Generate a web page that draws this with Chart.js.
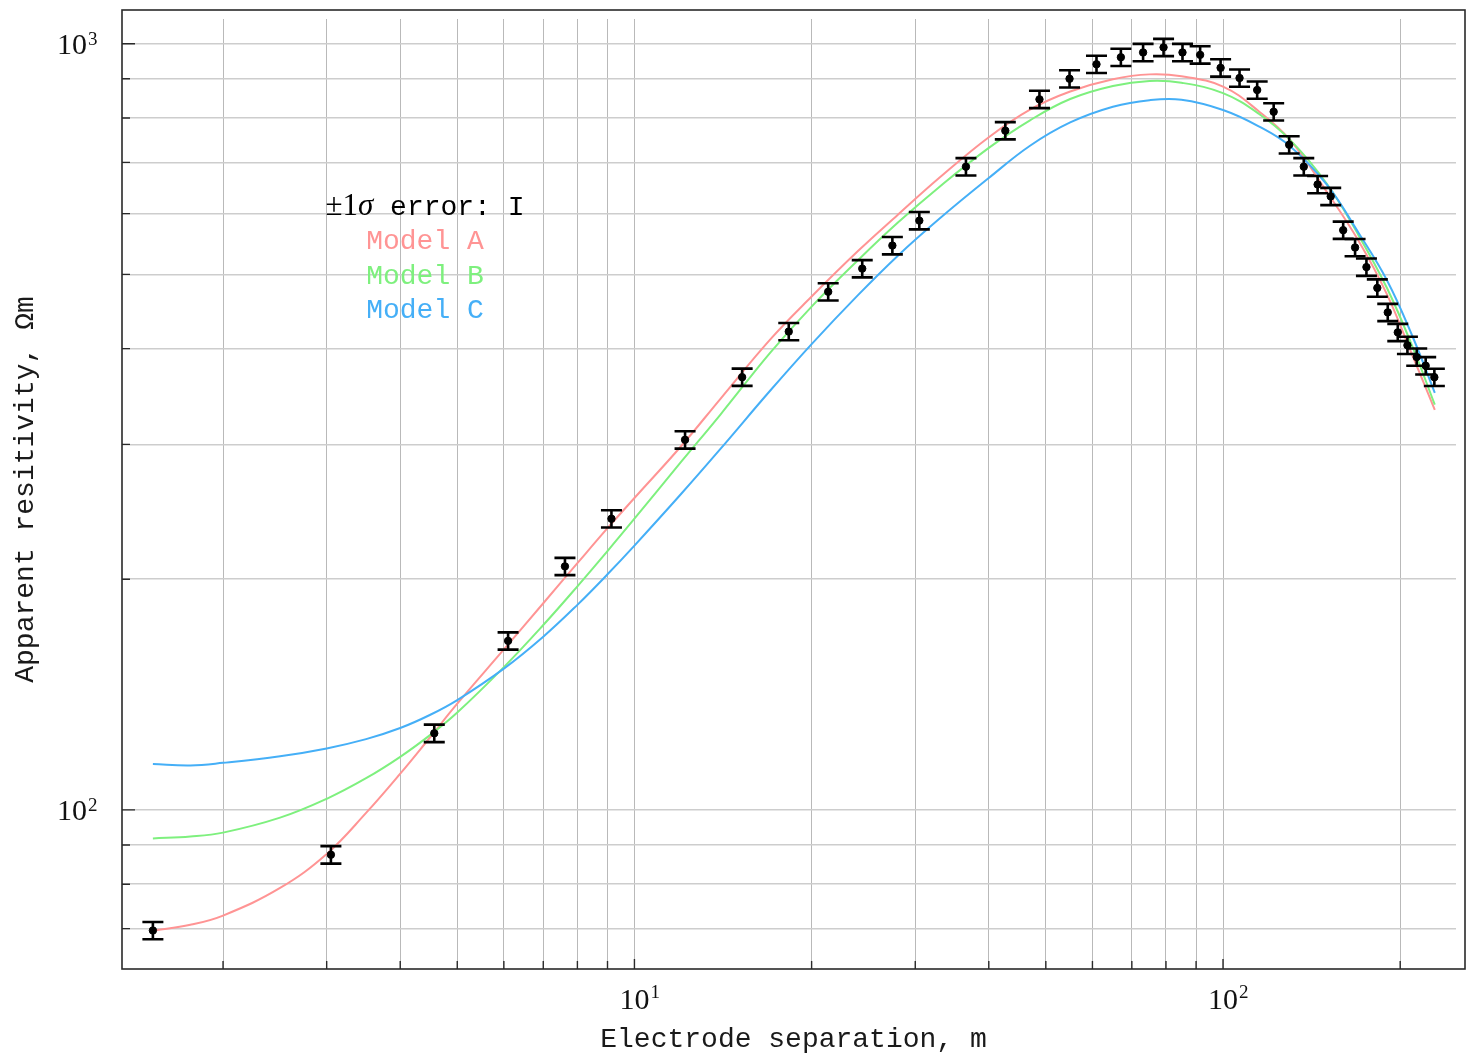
<!DOCTYPE html>
<html>
<head>
<meta charset="utf-8">
<title>Apparent resistivity sounding</title>
<script src="https://cdn.jsdelivr.net/npm/chart.js@4.4.1/dist/chart.umd.min.js"></script>
<style>
  html, body { margin: 0; padding: 0; background: #fff; }
  #chart { display: block; }
</style>
</head>
<body>
<canvas id="chart" width="1470" height="1055"></canvas>
<script>
// measured soundings: electrode separation (m), apparent resistivity (ohm-m), 1 sigma
const spacing = [1.52, 3.05, 4.57, 6.10, 7.62, 9.14, 12.19, 15.24, 18.29, 21.34, 24.38, 27.43, 30.48,
  36.58, 42.67, 48.77, 54.86, 60.96, 67.06, 73.15, 79.25, 85.34, 91.44, 99.06, 106.68, 114.30,
  121.92, 129.54, 137.16, 144.78, 152.40, 160.02, 167.64, 175.26, 182.88, 190.50, 198.12, 205.74,
  213.36, 220.98, 228.60];
const rhoMeasured = [69.6, 87.4, 125.9, 166.2, 207.9, 239.9, 304.1, 367.1, 421, 474.5, 508.7, 545.2, 587.6,
  691, 770, 846, 900, 940, 960, 974, 989, 974, 967, 930, 902, 870,
  815, 738, 691, 655, 632, 571, 542, 511, 480, 446, 420, 404,
  390, 380, 367];
const rhoSigma = [1.8, 2.3, 3.3, 4.3, 5.4, 6.2, 7.9, 9.5, 10.9, 12.3, 13.2, 14.2, 15.3,
  18.0, 20.0, 22.0, 23.4, 24.4, 25.0, 25.3, 25.7, 25.3, 25.1, 24.2, 23.5, 22.6,
  21.2, 19.2, 18.0, 17.0, 16.4, 14.8, 14.1, 13.3, 12.5, 11.6, 10.9, 10.5,
  10.1, 9.9, 9.5];

const modelSpacing = [1.52, 1.76, 2, 2.5, 3, 3.5, 4, 4.5, 5, 6, 7, 8, 9, 10, 12, 14, 17, 20, 24, 28, 33,
  40, 47, 55, 65, 75, 85, 100, 115, 130, 150, 170, 190, 210, 229];
const modelA = [69.6, 70.8, 72.8, 79.1, 87.6, 99.1, 111.5, 124.5, 137.6, 162.0, 186.1, 209.9, 233.2, 255.3,
  298.3, 344, 410.9, 467.7, 536.6, 597.7, 668.7, 755, 820.3, 866, 898.5, 911.9, 906.7, 879,
  816.4, 748.9, 641, 552.8, 470.5, 391.2, 332.8];
const modelB = [91.8, 92.3, 93.4, 97.7, 103.4, 110.0, 117.3, 125.3, 134.0, 153.6, 174.3, 195.8, 217.7, 239.9,
  284.5, 328.1, 394.9, 453.8, 522.0, 583.7, 650.7, 731.2, 794.4, 846.8, 880.6, 894.0, 889.2, 861.8,
  810.2, 748.9, 656.9, 562.1, 479.5, 401.7, 338];
const modelC = [114.8, 114.3, 115.2, 117.5, 120.3, 123.7, 127.9, 133.1, 139.1, 152.9, 168.3, 185.2, 203.0, 221.3,
  258.4, 295.9, 352.4, 405.5, 470.1, 528.5, 591.3, 667.9, 735.8, 789.2, 827.3, 843.9, 844.9, 819.4,
  780.2, 735, 655, 566.2, 490.9, 414.5, 350.2];

const modelNames = ['Model A', 'Model B', 'Model C'];
const xTicks = [2, 3, 4, 5, 6, 7, 8, 9, 10, 20, 30, 40, 50, 60, 70, 80, 90, 100, 200];
const yTicks = [70, 80, 90, 100, 200, 300, 400, 500, 600, 700, 800, 900, 1000];
const xDecades = [10, 100];
const yDecades = [100, 1000];

const xMin = 1.347, xMax = 248.8;
const yMin = 62.0, yMax = 1077;

const colorA = '#ff9494';
const colorB = '#7ef07e';
const colorC = '#45aff7';
const frameColor = '#2a2a2a';
const mono = '"Liberation Mono", "Courier New", monospace';
const serif = '"Liberation Serif", "DejaVu Serif", serif';

function pairs(xs, ys) {
  return xs.map((x, i) => ({ x: x, y: ys[i] }));
}

// error bars, frame, inward ticks and all text
const overlay = {
  id: 'overlay',
  afterDatasetsDraw(chart) {
    const ctx = chart.ctx;
    const xs = chart.scales.x;
    const ys = chart.scales.y;
    ctx.save();
    ctx.strokeStyle = '#000';
    ctx.lineWidth = 2.6;
    for (let i = 0; i < spacing.length; i++) {
      const px = xs.getPixelForValue(spacing[i]);
      const lo = ys.getPixelForValue(rhoMeasured[i] - rhoSigma[i]);
      const hi = ys.getPixelForValue(rhoMeasured[i] + rhoSigma[i]);
      ctx.beginPath();
      ctx.moveTo(px, lo); ctx.lineTo(px, hi);
      ctx.moveTo(px - 10.5, lo); ctx.lineTo(px + 10.5, lo);
      ctx.moveTo(px - 10.5, hi); ctx.lineTo(px + 10.5, hi);
      ctx.stroke();
    }
    ctx.restore();
  },
  afterDraw(chart) {
    const ctx = chart.ctx;
    const area = chart.chartArea;
    const xs = chart.scales.x;
    const ys = chart.scales.y;
    const left = area.left, bottom = area.bottom;
    const top = area.top - 9, right = area.right + 9;

    ctx.save();
    // frame
    ctx.strokeStyle = frameColor;
    ctx.lineWidth = 1.6;
    ctx.strokeRect(left, top, right - left, bottom - top);

    // inward tick marks on left and bottom
    ctx.lineWidth = 1.4;
    ctx.beginPath();
    yTicks.forEach(v => {
      const py = ys.getPixelForValue(v);
      const len = yDecades.includes(v) ? 13 : 8;
      ctx.moveTo(left, py); ctx.lineTo(left + len, py);
    });
    xTicks.forEach(v => {
      const px = xs.getPixelForValue(v);
      const len = xDecades.includes(v) ? 10 : 8;
      ctx.moveTo(px, bottom); ctx.lineTo(px, bottom - len);
    });
    ctx.stroke();

    // decade labels
    ctx.fillStyle = '#111';
    ctx.textBaseline = 'alphabetic';
    xDecades.forEach(v => {
      const px = xs.getPixelForValue(v);
      ctx.font = '30px ' + serif;
      ctx.textAlign = 'center';
      ctx.fillText('10', px, bottom + 40);
      const w = ctx.measureText('10').width;
      ctx.font = '19px ' + serif;
      ctx.textAlign = 'left';
      ctx.fillText(String(Math.round(Math.log10(v))), px + w / 2 + 1, bottom + 29);
    });
    yDecades.forEach(v => {
      const py = ys.getPixelForValue(v);
      ctx.font = '30px ' + serif;
      ctx.textAlign = 'right';
      ctx.fillText('10', left - 35, py + 10);
      ctx.font = '19px ' + serif;
      ctx.textAlign = 'left';
      ctx.fillText(String(Math.round(Math.log10(v))), left - 34, py + 1);
    });

    // axis titles
    ctx.font = '28px ' + mono;
    ctx.fillStyle = '#1a1a1a';
    ctx.textAlign = 'center';
    ctx.fillText('Electrode separation, m', (left + right) / 2, 1047);
    ctx.save();
    ctx.translate(33, (top + bottom) / 2);
    ctx.rotate(-Math.PI / 2);
    ctx.fillText('Apparent resitivity, \u03A9m', 0, 0);
    ctx.restore();

    // legend
    const cx = 425;
    const parts = [
      { t: '\u00B11', f: '31px ' + serif },
      { t: '\u03C3', f: 'italic 31px ' + serif },
      { t: ' error: I', f: '28px ' + mono }
    ];
    let total = 0;
    parts.forEach(p => { ctx.font = p.f; p.w = ctx.measureText(p.t).width; total += p.w; });
    let x0 = cx - total / 2;
    ctx.textAlign = 'left';
    ctx.fillStyle = '#000';
    parts.forEach(p => { ctx.font = p.f; ctx.fillText(p.t, x0, 215); x0 += p.w; });
    ctx.font = '28px ' + mono;
    ctx.textAlign = 'center';
    [colorA, colorB, colorC].forEach((c, i) => {
      ctx.fillStyle = c;
      ctx.fillText(modelNames[i], cx, 249 + i * 34.5);
    });
    ctx.restore();
  }
};

function modelLine(name, values, color, order) {
  return {
    label: name,
    type: 'line',
    data: pairs(modelSpacing, values),
    borderColor: color,
    borderWidth: 2,
    pointRadius: 0,
    fill: false,
    tension: 0.4,
    order: order
  };
}

const chart = new Chart(document.getElementById('chart').getContext('2d'), {
  type: 'scatter',
  data: {
    datasets: [
      {
        label: 'measured',
        data: pairs(spacing, rhoMeasured),
        backgroundColor: '#000',
        borderColor: '#000',
        pointRadius: 3.7,
        showLine: false,
        order: 0
      },
      modelLine(modelNames[2], modelC, colorC, 1),
      modelLine(modelNames[1], modelB, colorB, 2),
      modelLine(modelNames[0], modelA, colorA, 3)
    ]
  },
  options: {
    responsive: false,
    animation: false,
    events: [],
    layout: { padding: { left: 122, right: 14, top: 19, bottom: 86 } },
    plugins: { legend: { display: false }, tooltip: { enabled: false } },
    scales: {
      x: {
        type: 'logarithmic',
        min: xMin,
        max: xMax,
        afterBuildTicks: s => { s.ticks = xTicks.map(v => ({ value: v })); },
        ticks: { display: false },
        grid: { color: '#b9b9b9', lineWidth: 1, drawTicks: false },
        border: { display: false }
      },
      y: {
        type: 'logarithmic',
        min: yMin,
        max: yMax,
        afterBuildTicks: s => { s.ticks = yTicks.map(v => ({ value: v })); },
        ticks: { display: false },
        grid: { color: '#cdcdcd', lineWidth: 1.6, drawTicks: false },
        border: { display: false }
      }
    }
  },
  plugins: [overlay]
});
</script>
</body>
</html>
